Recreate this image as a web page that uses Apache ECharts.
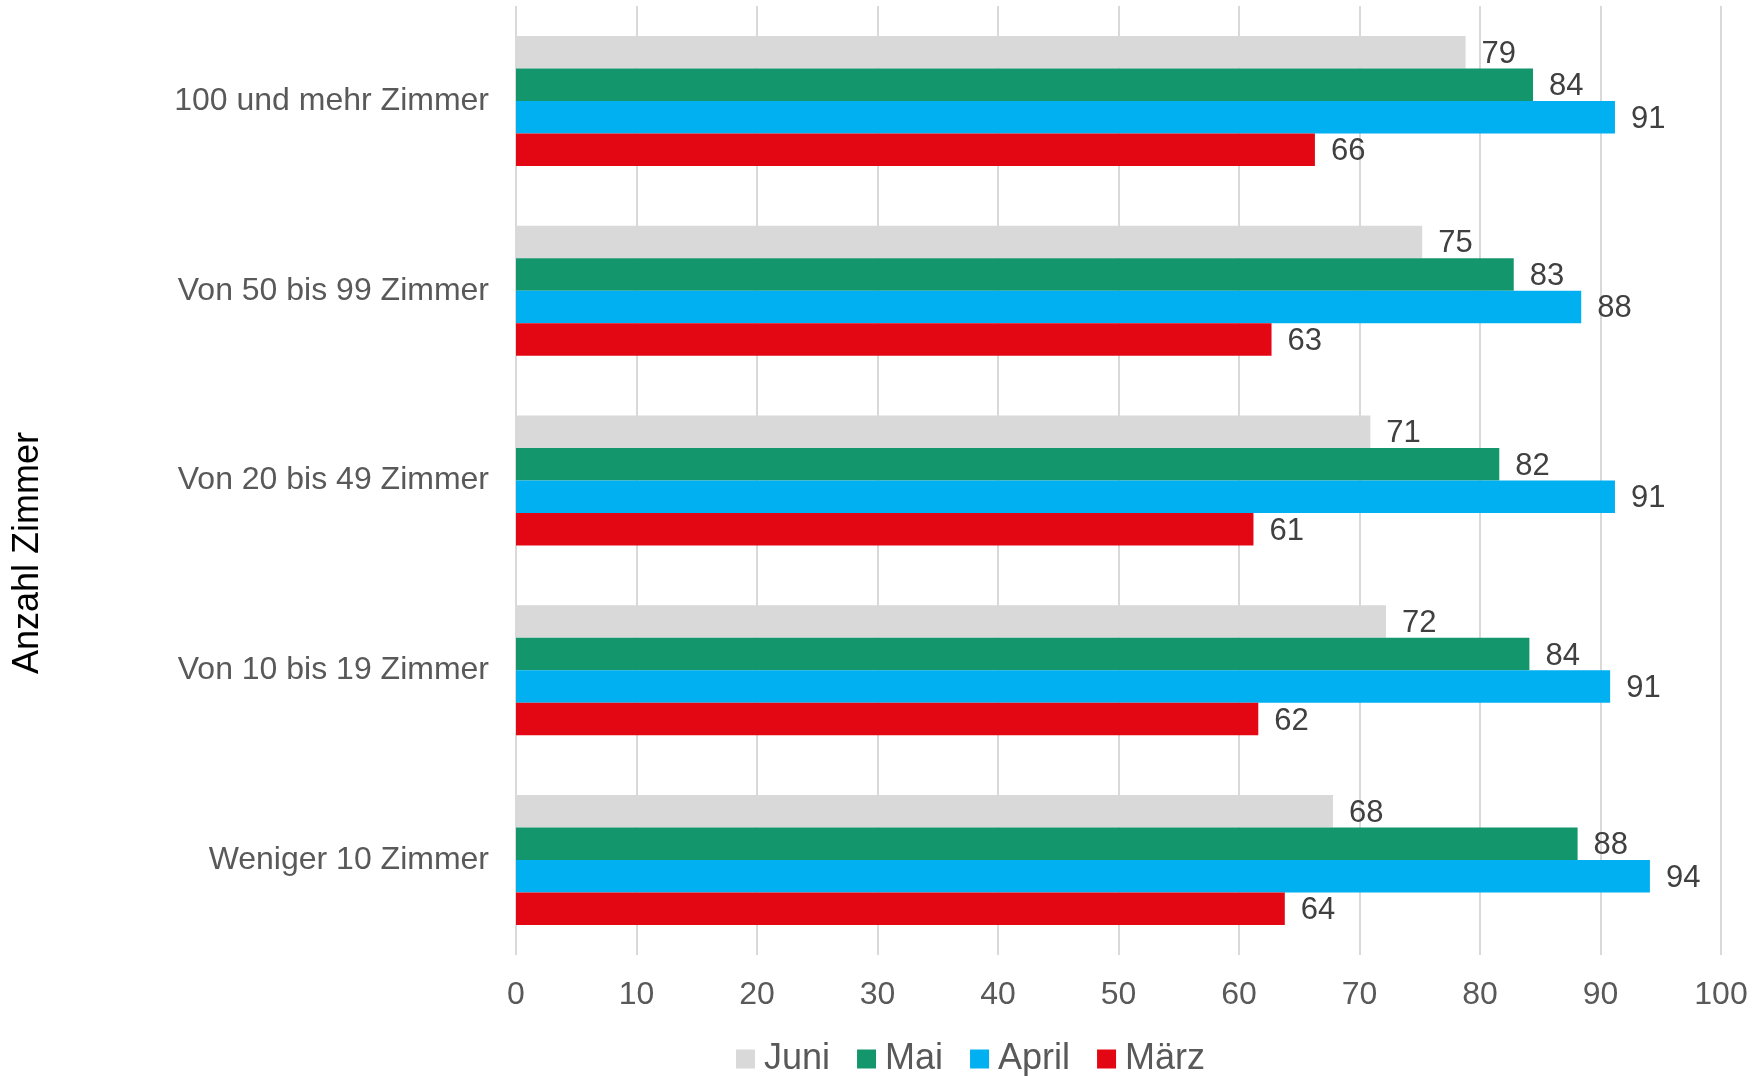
<!DOCTYPE html>
<html>
<head>
<meta charset="utf-8">
<script src="https://cdn.jsdelivr.net/npm/echarts@6/dist/echarts.min.js"></script>
<style>html,body{margin:0;padding:0;background:#fff}#c{width:1752px;height:1076px}</style>
</head>
<body>
<div id="c"></div>
<script>
const categories = ["100 und mehr Zimmer", "Von 50 bis 99 Zimmer", "Von 20 bis 49 Zimmer", "Von 10 bis 19 Zimmer", "Weniger 10 Zimmer"];
const juni  = [78.8, 75.2, 70.9, 72.2, 67.8];
const mai   = [84.4, 82.8, 81.6, 84.1, 88.1];
const april = [91.2, 88.4, 91.2, 90.8, 94.1];
const maerz = [66.3, 62.7, 61.2, 61.6, 63.8];
const xTicks = [0, 10, 20, 30, 40, 50, 60, 70, 80, 90, 100];
const seriesNames = ["Juni", "Mai", "April", "März"];
const colors = ["#d9d9d9", "#14966c", "#00b0f0", "#e30613"];
const axisTitle = "Anzahl Zimmer";

const FONT = "'Liberation Sans', Arial, sans-serif";
const chart = echarts.init(document.getElementById('c'), null, {renderer: 'canvas'});
const dataSets = [juni, mai, april, maerz];
const labelCfg = {
  show: true, position: 'right', distance: 16, offset: [0, 2],
  fontFamily: FONT, fontSize: 31, color: '#404040',
  formatter: p => String(Math.round(p.value))
};
chart.setOption({
  animation: false,
  textStyle: {fontFamily: FONT},
  grid: {left: 516, right: 31, top: 6, bottom: 121, containLabel: false},
  legend: {
    data: seriesNames, left: 731, top: 1036,
    itemWidth: 19, itemHeight: 19, itemGap: 27,
    icon: 'rect',
    textStyle: {fontFamily: FONT, fontSize: 36, color: '#595959', padding: [0, 0, 0, 4]}
  },
  xAxis: {
    type: 'value', min: xTicks[0], max: xTicks[xTicks.length - 1], interval: 10,
    axisLine: {show: false}, axisTick: {show: false},
    axisLabel: {fontFamily: FONT, fontSize: 32, color: '#595959', margin: 24},
    splitLine: {show: true, lineStyle: {color: '#d9d9d9', width: 2}}
  },
  yAxis: {
    type: 'category', data: categories, inverse: true,
    axisLine: {show: false}, axisTick: {show: false},
    axisLabel: {fontFamily: FONT, fontSize: 32, color: '#595959', margin: 27}
  },
  graphic: [{
    type: 'text', x: 28.5, y: 553, rotation: Math.PI / 2,
    style: {text: axisTitle, font: "36px 'Liberation Sans', Arial, sans-serif", fill: '#000000',
      textAlign: 'center', textVerticalAlign: 'middle'}
  }],
  series: seriesNames.map((n, i) => ({
    name: n, type: 'bar', data: dataSets[i],
    itemStyle: {color: colors[i]},
    barGap: '0%', barCategoryGap: '31.5%',
    label: labelCfg
  }))
});
</script>
</body>
</html>
